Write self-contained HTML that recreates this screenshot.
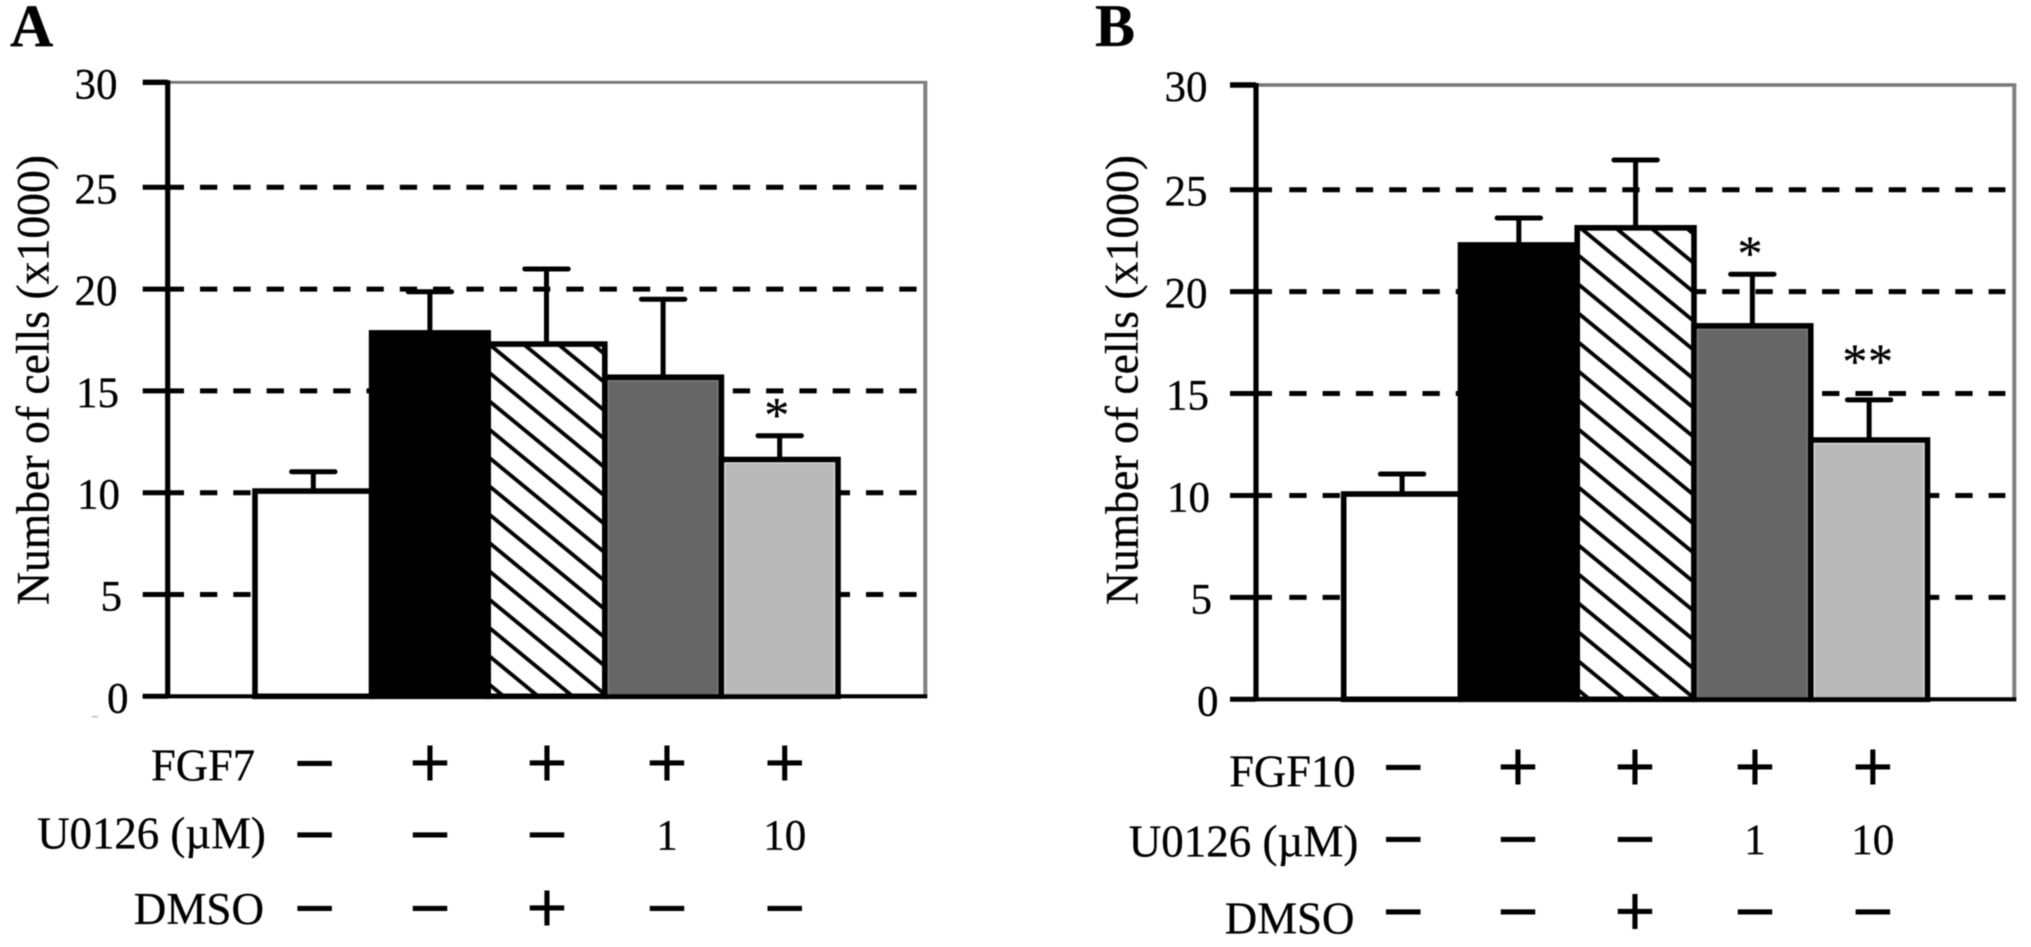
<!DOCTYPE html>
<html lang="en">
<head>
<meta charset="utf-8">
<title>Number of cells with FGF7 or FGF10 and U0126</title>
<style>
  html,body{margin:0;padding:0;background:#fff;}
  svg{display:block;filter:blur(0.4px);}
  text{font-family:"Liberation Serif",serif;fill:#000;stroke:#000;stroke-width:0.3px;}
  text.sign{font-family:"Liberation Sans",sans-serif;stroke-width:0;}
</style>
</head>
<body>
<svg id="figure" xmlns="http://www.w3.org/2000/svg" width="2031" height="947" viewBox="0 0 2031 947">
  <defs>
    <pattern id="hatch-a" patternUnits="userSpaceOnUse" width="10" height="21.9" patternTransform="translate(601.7 436.7) rotate(39.4)">
      <rect x="0" y="-1.9" width="10" height="3.8" fill="#000"></rect>
      <rect x="0" y="20" width="10" height="3.8" fill="#000"></rect>
    </pattern>
    <pattern id="hatch-b" patternUnits="userSpaceOnUse" width="10" height="22.4" patternTransform="translate(1691.7 493.3) rotate(39.4)">
      <rect x="0" y="-1.9" width="10" height="3.8" fill="#000"></rect>
      <rect x="0" y="20.5" width="10" height="3.8" fill="#000"></rect>
    </pattern>
  </defs>
  <line x1="92" x2="98" y1="716.7" y2="716.7" stroke="#bbb" stroke-width="1.5"></line>
</svg>
<script>
// ---- chart data ----
var tickLabels = [0, 5, 10, 15, 20, 25, 30];
var barNames = ['control', 'growth-factor', 'dmso', 'u0126-1', 'u0126-10'];
var valuesA = [10.08, 17.85, 17.3, 15.67, 11.63];
var errorsA = [0.95, 2.02, 3.69, 3.83, 1.17];
var valuesB = [10.07, 22.29, 23.13, 18.32, 12.72];
var errorsB = [0.98, 1.32, 3.29, 2.53, 1.97];
var rowLabelsA = ['FGF7', 'U0126 (\u00B5M)', 'DMSO'];
var rowLabelsB = ['FGF10', 'U0126 (\u00B5M)', 'DMSO'];
var rowGrowthFactor = ['\u2212', '+', '+', '+', '+'];
var rowInhibitor = ['\u2212', '\u2212', '\u2212', '1', '10'];
var rowDmso = ['\u2212', '\u2212', '+', '\u2212', '\u2212'];
var axisTitle = 'Number of cells (x1000)';

// ---- layout ----
var NS = 'http://www.w3.org/2000/svg';
var svg = document.getElementById('figure');
var barFills = ['#ffffff', '#000000', null, '#666666', '#b9b9b9'];
var barEdges = [null, null, null, '#7a7a7a', '#d4d4d4'];
var labelNudge = {0: 11, 5: 4.5, 10: 2.5, 15: 1.5};

var layoutA = {
  key: 'a', letter: 'A', letterX: 10,
  y0: 696.3, y25: 187.3, yTop: 82.3,
  axisX: 167.7, tickStart: 142.7, tickEnd: 184, dashStart: 200, dashEnd: 917.4,
  frameRight: 925.3, frameTopWidth: 2.8,
  barLeft: 255, barStep: 116.6,
  labelRight: 117.5, titleX: 48.3,
  rowRight: [255, 265.8, 264], rowLeft: [151, 37.3, 133.8], rowBase: [780.5, 848.3, 924],
  signY: [762.7, 834, 907.3], signX: [314.6, 430, 547, 667, 784.7],
  values: valuesA, errors: errorsA, rowLabels: rowLabelsA
};
var layoutB = {
  key: 'b', letter: 'B', letterX: 1095,
  y0: 699.3, y25: 189.7, yTop: 85,
  axisX: 1256, tickStart: 1230, tickEnd: 1272, dashStart: 1289.3, dashEnd: 2005.4,
  frameRight: 2014.3, frameTopWidth: 3.6,
  barLeft: 1343.7, barStep: 116.76,
  labelRight: 1207.5, titleX: 1137.3,
  rowRight: [1355.5, 1358.4, 1354.4], rowLeft: [1229.3, 1128.8, 1224.7], rowBase: [786.7, 856.7, 933.3],
  signY: [766.7, 838.3, 911], signX: [1403.2, 1518, 1635, 1755, 1872.8],
  values: valuesB, errors: errorsB, rowLabels: rowLabelsB
};

function make(tag, attrs, parent) {
  var el = document.createElementNS(NS, tag);
  for (var k in attrs) { el.setAttribute(k, attrs[k]); }
  (parent || svg).appendChild(el);
  return el;
}

// The 25-30 interval is slightly taller than the others in the source figure.
function yScale(p, v) {
  if (v <= 25) { return p.y0 - (p.y0 - p.y25) * v / 25; }
  return p.y25 - (p.y25 - p.yTop) * (v - 25) / 5;
}
function barCenter(p, i) { return p.barLeft + p.barStep * (i + 0.5); }

function drawPanel(p) {
  var g = make('g', {});
  
  

  var letter = make('text', {x: p.letterX, y: 46, 'font-size': 60, 'font-weight': 'bold'}, g);
  letter.textContent = p.letter;
  
  

  // frame
  var topLine = make('line', {x1: p.axisX, x2: p.frameRight + 2, y1: p.yTop, y2: p.yTop, stroke: '#777', 'stroke-width': p.frameTopWidth}, g);
  
  
  var rightLine = make('line', {x1: p.frameRight, x2: p.frameRight, y1: p.yTop - 1, y2: p.y0 + 1, stroke: '#808080', 'stroke-width': 4}, g);
  
  

  // gridlines, ticks and tick labels
  tickLabels.forEach(function (t) {
    var y = yScale(p, t);
    if (t > 0 && t < 30) {
      var grid = make('line', {x1: p.dashStart, x2: p.dashEnd, y1: y, y2: y, stroke: '#000', 'stroke-width': 5, 'stroke-dasharray': '17.3 16'}, g);
      
      
    }
    var tick = make('line', {x1: p.tickStart, x2: (t > 0 && t < 30) ? p.tickEnd : p.axisX, y1: y, y2: y, stroke: '#000', 'stroke-width': t === 30 ? 5.4 : 5}, g);
    
    
    var label = make('text', {x: p.labelRight + (labelNudge[t] || 0), y: y + 16, 'font-size': 43, 'text-anchor': 'end'}, g);
    label.textContent = t;
    
    
  });

  // y axis title
  var title = make('text', {
    transform: 'translate(' + p.titleX + ' 605) rotate(-90)',
    'font-size': 47, textLength: 450, lengthAdjust: 'spacingAndGlyphs'
  }, g);
  title.textContent = axisTitle;
  
  

  // error bars, then bars over their bases
  p.values.forEach(function (v, i) {
    var cx = barCenter(p, i);
    var topY = yScale(p, v + p.errors[i]);
    var stem = make('line', {x1: cx, x2: cx, y1: yScale(p, v), y2: topY, stroke: '#000', 'stroke-width': 5}, g);
    
    
    var cap = make('line', {x1: cx - 21.7, x2: cx + 21.7, y1: topY, y2: topY, stroke: '#000', 'stroke-width': 5, 'stroke-linecap': 'round'}, g);
    
    
  });
  p.values.forEach(function (v, i) {
    var left = p.barLeft + p.barStep * i;
    var fill = barFills[i];
    if (fill === null) {
      var under = make('rect', {x: left, y: yScale(p, v), width: p.barStep, height: p.y0 - yScale(p, v), fill: '#fff'}, g);
      
      
      fill = 'url(#hatch-' + p.key + ')';
    }
    var bar = make('rect', {x: left, y: yScale(p, v), width: p.barStep, height: p.y0 - yScale(p, v), fill: fill, stroke: '#000', 'stroke-width': 5.6}, g);
    
    
    if (barEdges[i]) {
      var edge = make('rect', {x: left + 3.6, y: yScale(p, v) + 3.6, width: p.barStep - 7.2, height: p.y0 - yScale(p, v) - 5.5, fill: 'none', stroke: barEdges[i], 'stroke-width': 1.6}, g);
      
      
    }
  });

  // axes on top
  var xAxis = make('line', {x1: p.tickStart, x2: p.frameRight + 2, y1: p.y0, y2: p.y0, stroke: '#000', 'stroke-width': 4.2}, g);
  
  
  var yAxis = make('line', {x1: p.axisX, x2: p.axisX, y1: p.yTop - 2, y2: p.y0 + 2, stroke: '#000', 'stroke-width': 5.2}, g);
  
  

  // treatment table
  var rows = [rowGrowthFactor, rowInhibitor, rowDmso];
  rows.forEach(function (row, r) {
    var rowLabel = make('text', {
      x: p.rowLeft[r], y: p.rowBase[r], 'font-size': 45,
      textLength: p.rowRight[r] - p.rowLeft[r], lengthAdjust: 'spacingAndGlyphs'
    }, g);
    rowLabel.textContent = p.rowLabels[r];
    
    
    row.forEach(function (sym, c) {
      var isSign = (sym === '+' || sym === '\u2212');
      var cell = make('text', {
        x: p.signX[c], y: isSign ? p.signY[r] + 24.5 : p.signY[r] + 15.5,
        'font-size': isSign ? 71 : 43, 'text-anchor': 'middle'
      }, g);
      if (isSign) { cell.setAttribute('class', 'sign'); }
      cell.textContent = sym;
      
      
    });
  });
}

drawPanel(layoutA);
drawPanel(layoutB);

// significance markers
var starA = make('text', {x: 776.7, y: 431.5, 'font-size': 50, 'text-anchor': 'middle'});
starA.textContent = '*';


var starB1 = make('text', {x: 1750, y: 269.8, 'font-size': 50, 'text-anchor': 'middle'});
starB1.textContent = '*';


var starB2 = make('text', {x: 1868, y: 378.2, 'font-size': 50, 'text-anchor': 'middle', 'letter-spacing': 0.6});
starB2.textContent = '**';


</script>
</body>
</html>
